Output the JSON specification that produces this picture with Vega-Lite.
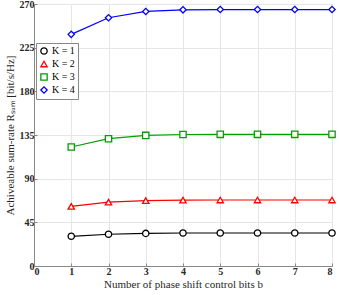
{
  "$schema": "https://vega.github.io/schema/vega-lite/v6.json",
  "width": 298,
  "height": 262,
  "autosize": {"type": "none"},
  "padding": {"left": 34, "top": 4, "right": 7, "bottom": 29},
  "background": "white",
  "config": {
    "view": {"stroke": "#888888", "strokeWidth": 1},
    "font": "Liberation Serif"
  },
  "data": {
    "values": [
      {"b": 1, "K": "K = 1", "R": 30.6}, {"b": 2, "K": "K = 1", "R": 32.7}, {"b": 3, "K": "K = 1", "R": 33.6}, {"b": 4, "K": "K = 1", "R": 34}, {"b": 5, "K": "K = 1", "R": 34}, {"b": 6, "K": "K = 1", "R": 34}, {"b": 7, "K": "K = 1", "R": 34}, {"b": 8, "K": "K = 1", "R": 34},
      {"b": 1, "K": "K = 2", "R": 61.5}, {"b": 2, "K": "K = 2", "R": 65.8}, {"b": 3, "K": "K = 2", "R": 67.4}, {"b": 4, "K": "K = 2", "R": 67.9}, {"b": 5, "K": "K = 2", "R": 68}, {"b": 6, "K": "K = 2", "R": 68}, {"b": 7, "K": "K = 2", "R": 68}, {"b": 8, "K": "K = 2", "R": 68},
      {"b": 1, "K": "K = 3", "R": 122.6}, {"b": 2, "K": "K = 3", "R": 131.2}, {"b": 3, "K": "K = 3", "R": 134.6}, {"b": 4, "K": "K = 3", "R": 135.5}, {"b": 5, "K": "K = 3", "R": 135.7}, {"b": 6, "K": "K = 3", "R": 135.7}, {"b": 7, "K": "K = 3", "R": 135.7}, {"b": 8, "K": "K = 3", "R": 135.7},
      {"b": 1, "K": "K = 4", "R": 238.7}, {"b": 2, "K": "K = 4", "R": 255.8}, {"b": 3, "K": "K = 4", "R": 262.3}, {"b": 4, "K": "K = 4", "R": 264}, {"b": 5, "K": "K = 4", "R": 264.3}, {"b": 6, "K": "K = 4", "R": 264.3}, {"b": 7, "K": "K = 4", "R": 264.3}, {"b": 8, "K": "K = 4", "R": 264.3}
    ]
  },
  "mark": {"type": "line", "strokeWidth": 1.2, "point": {"filled": false, "size": 40, "strokeWidth": 1.3, "fill": "white"}},
  "encoding": {
    "x": {
      "field": "b", "type": "quantitative",
      "scale": {"domain": [0, 8], "nice": false},
      "axis": {
        "values": [0, 1, 2, 3, 4, 5, 6, 7, 8],
        "title": "Number of phase shift control bits b",
        "titleFont": "Liberation Serif", "titleFontWeight": "normal", "titleFontSize": 11, "titleColor": "#262626", "titlePadding": 2,
        "labelFont": "Liberation Serif", "labelFontWeight": "bold", "labelFontSize": 10, "labelColor": "#262626", "labelPadding": 3,
        "tickSize": -3, "tickColor": "#888888", "domainColor": "#888888",
        "gridColor": "#e6e6e6", "grid": true
      }
    },
    "y": {
      "field": "R", "type": "quantitative",
      "scale": {"domain": [0, 270], "nice": false},
      "axis": {
        "values": [0, 45, 90, 135, 180, 225, 270],
        "title": "Achiveable sum-rate Rₛᵤₘ [bit/s/Hz]",
        "titleFont": "Liberation Serif", "titleFontWeight": "normal", "titleFontSize": 11, "titleColor": "#262626", "titlePadding": 4,
        "labelFont": "Liberation Serif", "labelFontWeight": "bold", "labelFontSize": 10, "labelColor": "#262626", "labelPadding": 3,
        "tickSize": -3, "tickColor": "#888888", "domainColor": "#888888",
        "gridColor": "#e6e6e6", "grid": true
      }
    },
    "color": {
      "field": "K", "type": "nominal",
      "scale": {"domain": ["K = 1", "K = 2", "K = 3", "K = 4"], "range": ["#000000", "#ff0000", "#00a000", "#0000ff"]},
      "legend": {
        "title": null, "orient": "none", "legendX": 2, "legendY": 39,
        "strokeColor": "#888888", "fillColor": "white", "padding": 3,
        "labelFont": "Liberation Serif", "labelFontSize": 10, "labelColor": "#000000",
        "symbolStrokeWidth": 1.3, "rowPadding": 1, "labelOffset": 3, "symbolSize": 40
      }
    },
    "shape": {
      "field": "K", "type": "nominal",
      "scale": {"domain": ["K = 1", "K = 2", "K = 3", "K = 4"], "range": ["circle", "triangle-up", "square", "diamond"]},
      "legend": null
    }
  }
}
